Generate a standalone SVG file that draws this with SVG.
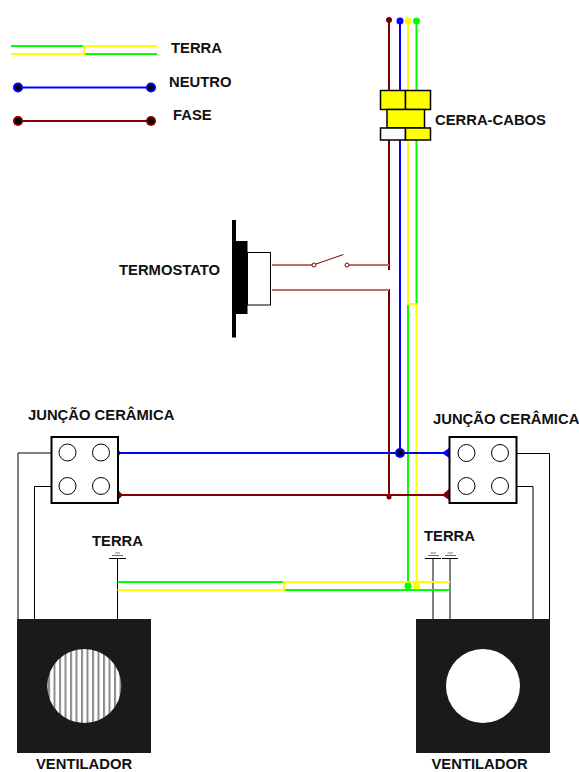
<svg xmlns="http://www.w3.org/2000/svg" width="579" height="772" viewBox="0 0 579 772">
<style>
text{font-family:"Liberation Sans",Arial,sans-serif;font-weight:bold;font-size:14.8px;fill:#111}
.w{fill:none}
.g{stroke:#00ff00;stroke-width:2}
.y{stroke:#ffff00;stroke-width:2}
.b{stroke:#0000ff;stroke-width:2}
.r{stroke:#800000;stroke-width:2}
.t{stroke:#b87070;stroke-width:2;fill:none}
.k{stroke:#000;stroke-width:1;fill:none}
.box{fill:#fff;stroke:#000;stroke-width:2}
.hole{fill:#fff;stroke:#000;stroke-width:1}
.clamp{fill:#ffff00;stroke:#000;stroke-width:1.500}
.fan{fill:#1a1a1a}
</style>
<defs>
<pattern id="st" width="5.500" height="6" patternUnits="userSpaceOnUse" x="48">
<rect width="5.500" height="6" fill="#fff"/><rect x="0" width="2" height="6" fill="#8a8a8a"/>
</pattern>
</defs>
<rect width="579" height="772" fill="#fff"/>
<g id="connectors">
<path class="w g" d="M11 46H83M85 54H157"/>
<path class="w y" d="M11 54H84V46H157"/>
<path class="w b" d="M18 87.500H151"/>
<path class="w r" d="M18 121H151"/>
<g id="dots-legend">
<circle cx="18" cy="87.500" r="5" fill="#0000ff"/><circle cx="18" cy="87.500" r="3" fill="#000"/>
<circle cx="151" cy="87.500" r="5" fill="#0000ff"/><circle cx="151" cy="87.500" r="3" fill="#000"/>
<circle cx="18" cy="121" r="5" fill="#800000"/><circle cx="18" cy="121" r="3" fill="#000"/>
<circle cx="151" cy="121" r="5" fill="#800000"/><circle cx="151" cy="121" r="3" fill="#000"/>
</g>
<path class="w r" d="M389 20V270M389 289V497"/>
<path class="w b" d="M400 21V453"/>
<path class="w g" d="M416.500 21V304H408V590"/>
<path class="w y" d="M408 21V304H416.500V590"/>
<circle cx="389" cy="20" r="3" fill="#800000"/><circle cx="389" cy="20" r="1" fill="#300"/>
<circle cx="400" cy="21" r="3.500" fill="#0000ff"/>
<circle cx="408" cy="21" r="3.500" fill="#ffff00"/>
<circle cx="416.500" cy="21" r="3.500" fill="#00ff00"/>
<path class="w b" d="M118 453H449"/>
<path class="w r" d="M118 495H449"/>
<circle cx="400" cy="453" r="5" fill="#0000ff"/><circle cx="400" cy="453" r="3" fill="#000"/>
<circle cx="389" cy="497" r="2.500" fill="#800000"/>
<path d="M118 449.500L121 453L118 456.500Z" fill="#0000ff"/>
<path d="M118 490L123 495L118 500Z" fill="#800000"/>
<path d="M449 448L442 453L449 458Z" fill="#0000ff"/>
<path d="M449 489L442 495L449 500Z" fill="#800000"/>
<path class="t" d="M272 265H312M349 265H389M272 290H389"/>
<path d="M316 264L343.500 254.500" stroke="#800000" stroke-width="1" fill="none"/>
<circle cx="314" cy="265" r="2" fill="#fff" stroke="#800000"/>
<circle cx="347" cy="265" r="2" fill="#fff" stroke="#800000"/>
<path class="k" d="M51 453H18V619M51 486.500H34.500V619M517 453.500H549.500V619M517 486.500H533V619"/>
<path class="k" d="M117.500 558V619M433 558V619M450 558V619"/>
<path class="w g" d="M117.500 582H283M285 590H450"/>
<path class="w y" d="M117.500 590H284V582H450"/>
<circle cx="408" cy="586" r="3.500" fill="#00ff00"/>
<circle cx="416.500" cy="586" r="3.500" fill="#ffff00"/>
</g>
<g id="earth-left" stroke="#000">
<path d="M109 558.500H126" stroke-width="1"/><path d="M112 555.500H123" stroke="#666" stroke-width="1"/><path d="M115 553H120" stroke="#777" stroke-width="1"/>
</g>
<g id="earth-right" stroke="#000">
<path d="M425 558.500H441M442 558.500H458" stroke-width="1"/><path d="M428 555.500H439M445 555.500H456" stroke="#666"/><path d="M430.500 553H436M447.500 553H453" stroke="#777"/>
</g>
<g id="cerra-cabos">
<rect class="clamp" x="380.500" y="90.500" width="25" height="19"/>
<rect class="clamp" x="405.500" y="90.500" width="25" height="19"/>
<rect class="clamp" x="387" y="109.500" width="37.500" height="18.500"/>
<rect x="380.500" y="128" width="25" height="12" fill="#fbfbfb" stroke="#000" stroke-width="1.500"/>
<rect class="clamp" x="405.500" y="128" width="25" height="12"/>
<text x="435" y="125">CERRA-CABOS</text>
</g>
<g id="termostato">
<rect x="232" y="220" width="4" height="117.500" fill="#000"/>
<rect x="236" y="241" width="11.500" height="73" fill="#000"/>
<rect x="247.500" y="252.500" width="23" height="52.500" fill="#fff" stroke="#000"/>
<text x="119" y="275">TERMOSTATO</text>
</g>
<g id="juncao-esquerda">
<rect class="box" x="51.500" y="437" width="66.500" height="66"/>
<circle class="hole" cx="67.500" cy="452.500" r="8.500"/><circle class="hole" cx="101" cy="452.500" r="8.500"/>
<circle class="hole" cx="67.500" cy="486" r="8.500"/><circle class="hole" cx="101" cy="486" r="8.500"/>
<text x="28" y="420">JUNÇÃO CERÂMICA</text>
</g>
<g id="juncao-direita">
<rect class="box" x="449.500" y="437" width="67" height="66"/>
<circle class="hole" cx="466.500" cy="453" r="8.500"/><circle class="hole" cx="500" cy="453" r="8.500"/>
<circle class="hole" cx="466.500" cy="486" r="8.500"/><circle class="hole" cx="500" cy="486" r="8.500"/>
<text x="433" y="424">JUNÇÃO CERÂMICA</text>
</g>
<g id="ventilador-esquerdo">
<rect class="fan" x="17" y="619" width="134" height="134"/>
<circle cx="84.300" cy="686" r="37" fill="url(#st)"/>
<text x="36" y="768.500">VENTILADOR</text>
</g>
<g id="ventilador-direito">
<rect class="fan" x="416" y="619" width="134" height="134"/>
<circle cx="483" cy="686" r="37" fill="#fff"/>
<text x="431.500" y="768.500">VENTILADOR</text>
</g>
<g id="legenda">
<text x="171" y="53">TERRA</text>
<text x="169" y="87">NEUTRO</text>
<text x="173" y="120">FASE</text>
<text x="92" y="546">TERRA</text>
<text x="424" y="541">TERRA</text>
</g>
</svg>
